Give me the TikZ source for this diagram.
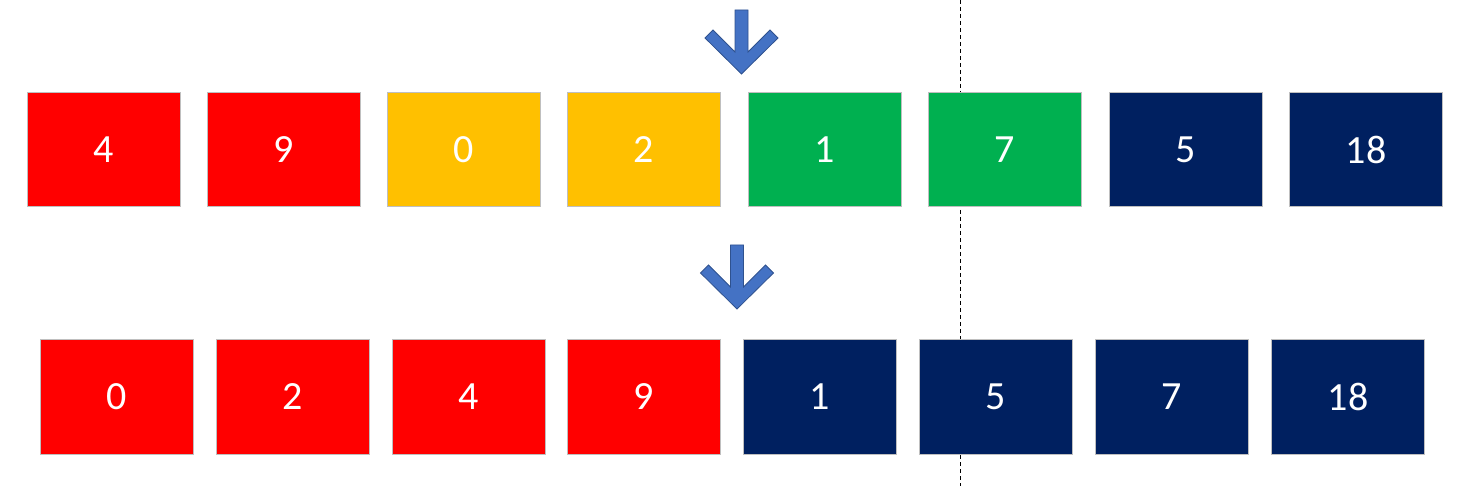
\documentclass[tikz,border=0pt]{standalone}
\usepackage{fontspec}
\setmainfont{Carlito}
\definecolor{cred}{HTML}{FF0000}
\definecolor{cyel}{HTML}{FFC000}
\definecolor{cgrn}{HTML}{00B050}
\definecolor{cnav}{HTML}{002060}
\definecolor{carr}{HTML}{4472C4}
\definecolor{carrd}{HTML}{2F528F}
\definecolor{cbord}{HTML}{BFBFBF}
\begin{document}
\begin{tikzpicture}[x=1pt,y=-1pt,
  cell/.style={draw=cbord,line width=1pt,minimum width=153pt,minimum height=114pt,inner sep=0pt,text=white,font=\fontsize{40}{40}\selectfont},
  rcell/.style={cell,fill=cred},
  ycell/.style={cell,fill=cyel},
  gcell/.style={cell,fill=cgrn},
  ncell/.style={cell,fill=cnav},
  downarrow/.style={fill=carr,draw=carrd,line width=0.8pt,line join=miter},
  divider/.style={draw=black,line width=1pt,dash pattern=on 4pt off 3pt}]
\useasboundingbox (0,0) rectangle (1478,486);
\coordinate (dtop) at (960,0);
\coordinate (dbot) at (960,486);
\draw[divider] (dtop) -- (dbot);
% top row
\node[rcell] (t1) at (103.5,150) {4};
\node[rcell] (t2) at (283.5,150) {9};
\node[ycell] (t3) at (464,150) {0};
\node[ycell] (t4) at (644,150) {2};
\node[gcell] (t5) at (825,150) {1};
\node[gcell] (t6) at (1005,150) {7};
\node[ncell] (t7) at (1186,150) {5};
\node[ncell] (t8) at (1366,150) {18};
% bottom row
\node[rcell] (b1) at (117,397) {0};
\node[rcell] (b2) at (293,397) {2};
\node[rcell] (b3) at (469,397) {4};
\node[rcell] (b4) at (644,397) {9};
\node[ncell] (b5) at (820,397) {1};
\node[ncell] (b6) at (996,397) {5};
\node[ncell] (b7) at (1172,397) {7};
\node[ncell] (b8) at (1348,397) {18};
% arrows
\draw[downarrow] (735,10) -- (748,10) -- (748,52) -- (770,30) -- (778,38) -- (741.5,74) -- (705,38) -- (713,30) -- (735,52) -- cycle;
\begin{scope}[shift={(-4.5,235)}]
\draw[downarrow] (735,10) -- (748,10) -- (748,52) -- (770,30) -- (778,38) -- (741.5,74) -- (705,38) -- (713,30) -- (735,52) -- cycle;
\end{scope}
\end{tikzpicture}
\end{document}
